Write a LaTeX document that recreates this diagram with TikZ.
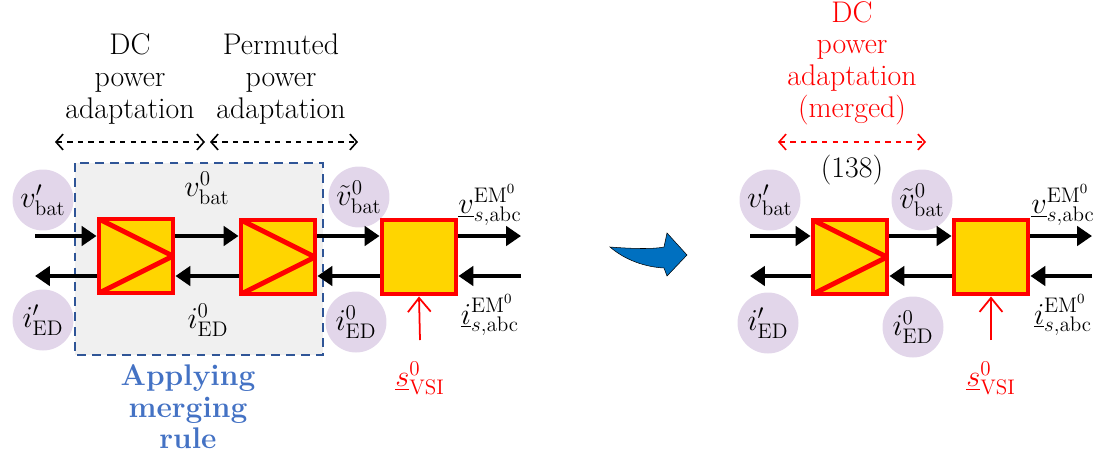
\documentclass[tikz,border=0pt]{standalone}
\usetikzlibrary{arrows.meta}
\definecolor{boxgold}{HTML}{FFD500}
\definecolor{varpurple}{HTML}{E2D6EA}
\definecolor{rulegrey}{HTML}{F0F0F0}
\definecolor{ruleblue}{HTML}{2F5597}
\definecolor{textblue}{HTML}{4472C4}
\definecolor{morphblue}{HTML}{0070C0}
\begin{document}
\begin{tikzpicture}[x=0.02cm, y=-0.02cm,
    every node/.style={font=\fontsize{17}{18}\selectfont, inner sep=1pt},
    conv/.style={draw=red, fill=boxgold, line width=2.8pt, minimum size=1.48cm, inner sep=0pt},
    convtri/.style={conv, path picture={\draw[red, line width=2.8pt]
        (path picture bounding box.north west) -- (path picture bounding box.east)
        -- (path picture bounding box.south west);}},
    var/.style={circle, fill=varpurple, minimum size=1.22cm, inner sep=0pt},
    flow/.style={line width=2.2pt, -{Triangle[length=8.5pt, width=11pt]}},
    ctrl/.style={red, line width=1pt, -{Straight Barb[length=8pt, width=13pt]}},
    span/.style={dashed, line width=0.9pt, {Straight Barb[length=4pt, width=9pt]}-{Straight Barb[length=4pt, width=9pt]}}]
  \useasboundingbox (0,0) rectangle (1099,457);

  % left: before merging
  \fill[rulegrey] (75,163) rectangle (323,355);
  \draw[ruleblue, line width=1.1pt, dash pattern=on 5pt off 3.5pt] (75,163) rectangle (323,355);
  \node[align=center] (dctxt) at (130,79) {DC\\power\\adaptation};
  \node[align=center] (permtxt) at (281,79) {Permuted\\power\\adaptation};
  \coordinate (da1) at (55,142); \coordinate (da2) at (205,142);
  \coordinate (pa1) at (210,142); \coordinate (pa2) at (358,142);
  \draw[span] (da1) -- (da2);
  \draw[span] (pa1) -- (pa2);
  \node[align=center, textblue, font=\fontsize{17}{18}\selectfont\bfseries] (rule) at (188,407)
    {Applying\\merging\\rule};

  \node[var] (vp) at (43,200) {$v'_{\mathrm{bat}}$};
  \node[var] (ip) at (43,320) {$i'_{\mathrm{ED}}$};
  \node[var] (vt) at (359,197) {$\tilde{v}^{0}_{\mathrm{bat}}$};
  \node[var] (iz) at (356,322) {$i^{0}_{\mathrm{ED}}$};
  \node (vz) at (207,188) {$v^{0}_{\mathrm{bat}}$};
  \node (izb) at (208,320) {$i^{0}_{\mathrm{ED}}$};

  \node[convtri] (b1) at (136,256) {};
  \node[convtri] (b2) at (278,257) {};
  \node[conv] (b3) at (419,257) {};

  \coordinate (lin) at (35,236); \coordinate (lout) at (35,276);
  \coordinate (rout) at (521,236); \coordinate (rin) at (521,276);
  \draw[flow] (lin) -- (lin -| b1.west);
  \draw[flow] (lout -| b1.west) -- (lout);
  \foreach \a/\b in {b1/b2, b2/b3}
    { \draw[flow] (lin -| \a.east) -- (lin -| \b.west);
      \draw[flow] (lout -| \b.west) -- (lout -| \a.east); }
  \draw[flow] (rout -| b3.east) -- (rout);
  \draw[flow] (rin) -- (rin -| b3.east);
  \node (vs) at (490,205) {$\underline{v}^{\mathrm{EM}^0}_{s,\mathrm{abc}}$};
  \node (is) at (490,315) {$\underline{i}^{\mathrm{EM}^0}_{s,\mathrm{abc}}$};
  \coordinate (sw) at (420,340);
  \draw[ctrl] (sw) -- (b3.south);
  \node[red] (sv) at (420,378) {$\underline{s}^{0}_{\mathrm{VSI}}$};

  % blue arrow
  \fill[morphblue, draw=black, line width=0.3pt] (610,247) .. controls (635,249) and (655,249) .. (664,247)
    -- (667,233) -- (687,255) -- (667,276) -- (664,268)
    .. controls (645,267) and (625,260) .. cycle;

  % right: after merging
  \node[align=center, red] (mtxt) at (852,63) {DC\\power\\adaptation\\(merged)};
  \coordinate (ma1) at (778,142); \coordinate (ma2) at (926,142);
  \draw[span, red] (ma1) -- (ma2);
  \node (eq) at (852,170) {(138)};

  \node[var] (mvp) at (770,200) {$v'_{\mathrm{bat}}$};
  \node[var] (mip) at (768,323) {$i'_{\mathrm{ED}}$};
  \node[var] (mvt) at (922,200) {$\tilde{v}^{0}_{\mathrm{bat}}$};
  \node[var] (miz) at (913,327) {$i^{0}_{\mathrm{ED}}$};

  \node[convtri] (m1) at (850,257) {};
  \node[conv] (m2) at (991,257) {};

  \coordinate (mlin) at (750,236); \coordinate (mlout) at (750,276);
  \coordinate (mrout) at (1092,236); \coordinate (mrin) at (1092,276);
  \draw[flow] (mlin) -- (mlin -| m1.west);
  \draw[flow] (mlout -| m1.west) -- (mlout);
  \draw[flow] (mlin -| m1.east) -- (mlin -| m2.west);
  \draw[flow] (mlout -| m2.west) -- (mlout -| m1.east);
  \draw[flow] (mrout -| m2.east) -- (mrout);
  \draw[flow] (mrin) -- (mrin -| m2.east);
  \node (mvs) at (1063,205) {$\underline{v}^{\mathrm{EM}^0}_{s,\mathrm{abc}}$};
  \node (mis) at (1063,315) {$\underline{i}^{\mathrm{EM}^0}_{s,\mathrm{abc}}$};
  \coordinate (msw) at (991,340);
  \draw[ctrl] (msw) -- (m2.south);
  \node[red] (msv) at (991,378) {$\underline{s}^{0}_{\mathrm{VSI}}$};
\end{tikzpicture}
\end{document}
